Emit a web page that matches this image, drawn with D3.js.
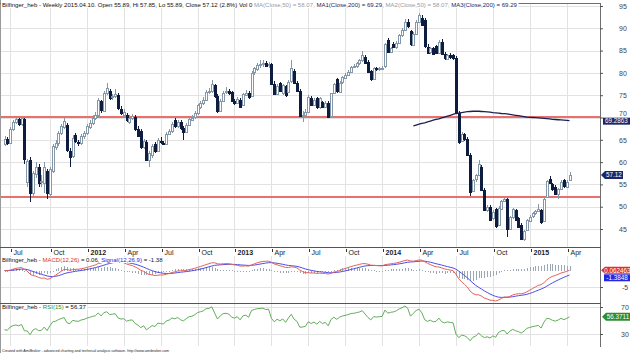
<!DOCTYPE html>
<html>
<head>
<meta charset="utf-8">
<script src="https://cdn.jsdelivr.net/npm/d3@7"></script>
<style>
  body { margin: 0; background: #fff; }
  svg { display: block; font-family: "Liberation Sans", Arial, sans-serif; }
</style>
</head>
<body>
<svg id="chart" width="630" height="353"></svg>
<script>
// Bilfinger_heb weekly bars, 2011-06-17 .. 2015-04-10
const opens = [
  64.0,65.2,64.4,67.5,69.0,69.6,68.5,69.6,55.5,60.5,
  53.0,57.5,59.0,55.6,55.5,58.0,53.0,58.0,63.5,64.3,
  66.5,68.0,68.3,62.6,61.5,66.0,64.4,64.2,65.8,66.5,
  68.0,68.8,70.0,70.6,73.6,71.5,75.5,76.0,74.5,74.8,
  75.0,72.0,70.6,70.5,69.0,69.8,70.2,67.5,67.0,63.5,
  64.5,60.5,61.5,64.0,62.5,64.8,64.3,64.2,66.4,67.0,
  69.4,68.0,69.0,67.6,66.8,68.3,69.6,70.0,71.0,72.5,
  73.3,74.0,75.8,76.0,77.3,74.8,71.5,73.8,75.6,75.9,
  75.8,73.8,73.3,74.0,72.8,75.2,75.5,74.8,80.0,81.0,
  81.8,82.0,82.3,81.7,82.0,77.6,75.3,77.8,75.4,77.0,
  75.8,78.0,80.5,77.7,76.0,70.5,70.6,71.2,74.4,72.9,
  74.3,72.2,73.5,72.4,73.3,70.2,75.4,78.6,75.8,77.8,
  79.0,79.6,80.3,81.3,81.6,82.2,82.8,83.5,82.5,80.4,
  78.6,81.0,80.8,81.0,81.4,87.4,84.7,86.5,85.8,86.8,
  88.5,89.6,91.5,89.3,86.3,88.8,91.5,92.4,91.8,85.9,
  84.5,85.5,86.0,84.5,87.0,84.2,83.2,84.0,84.0,83.3,
  71.0,64.8,66.3,65.2,61.6,53.6,56.0,57.0,59.0,53.8,
  49.3,50.0,47.4,49.5,46.0,49.6,51.3,51.7,45.0,47.6,
  49.2,47.5,46.0,42.8,44.8,47.0,47.8,48.5,49.0,49.2,
  46.8,52.3,56.2,55.0,54.5,52.8,54.0,55.9,54.5,55.89
]
const highs = [
  65.8,65.6,67.8,69.5,70.0,70.0,70.2,69.8,60.8,61.2,
  58.0,60.0,59.5,57.0,60.0,58.5,59.0,64.0,65.0,67.0,
  68.5,70.0,68.8,63.2,66.0,66.6,65.0,66.2,67.0,68.5,
  69.4,70.5,71.2,74.4,74.0,76.0,77.8,76.4,75.3,76.3,
  75.4,72.5,71.8,71.0,70.5,70.8,70.6,68.0,67.4,65.2,
  65.0,62.5,64.0,64.5,65.5,65.6,64.8,66.8,67.5,69.0,
  70.0,69.5,69.4,68.0,68.7,70.0,70.5,71.5,73.0,73.6,
  74.5,76.2,76.6,78.4,77.6,75.2,74.2,76.0,76.9,76.3,
  76.0,74.2,74.6,74.3,75.5,76.2,75.9,80.4,81.4,82.2,
  83.0,82.8,82.6,82.4,82.3,78.2,77.4,78.0,77.6,77.3,
  78.3,82.9,80.8,78.2,76.4,71.4,71.8,75.0,74.8,74.4,
  74.6,74.6,73.8,73.6,73.6,75.6,77.8,78.9,78.2,79.3,
  80.0,80.6,81.6,82.0,82.5,83.2,85.0,84.0,82.8,80.7,
  81.3,81.3,81.4,81.6,86.8,87.8,85.8,87.0,87.2,88.8,
  90.0,92.0,92.0,89.6,89.2,91.8,93.5,93.0,92.2,86.4,
  85.8,85.8,86.3,87.4,87.5,84.6,84.3,84.4,84.2,83.8,
  71.5,66.8,66.6,65.6,62.0,56.3,57.4,60.4,59.4,54.2,
  50.4,50.3,49.2,49.8,50.2,51.6,52.0,52.0,48.0,49.8,
  49.5,47.8,46.3,44.8,47.3,48.1,48.8,49.3,50.5,49.5,
  52.0,56.0,56.8,55.4,54.8,54.3,55.9,56.2,56.0,57.85
]
const lows = [
  63.6,63.8,64.0,67.0,68.5,68.2,68.0,59.5,54.5,51.0,
  52.5,56.5,54.5,54.5,53.0,51.8,52.0,57.5,62.8,63.5,
  66.0,67.5,62.3,59.0,61.0,64.2,63.5,63.8,65.2,66.0,
  67.5,68.3,69.5,70.2,71.0,71.2,75.0,74.0,74.0,74.3,
  71.6,70.6,70.0,69.0,68.6,69.4,67.0,65.6,63.0,63.0,
  60.2,59.0,61.0,62.0,62.2,64.0,63.8,63.8,66.0,66.6,
  67.7,67.6,67.2,65.0,66.5,68.0,69.2,69.6,70.5,71.8,
  72.8,73.6,75.2,75.6,74.4,71.0,71.2,73.5,75.2,75.0,
  73.5,72.8,73.0,72.2,72.5,74.8,74.2,74.6,79.6,80.5,
  81.2,81.4,81.4,81.2,77.2,75.0,75.0,75.7,75.0,74.6,
  75.5,77.8,77.4,75.8,70.3,69.0,70.2,71.0,72.6,72.5,
  72.0,72.0,72.2,72.2,70.0,70.0,75.2,75.5,75.5,77.5,
  78.6,79.3,80.0,81.0,81.2,81.8,82.4,82.0,79.9,78.2,
  78.3,80.5,80.4,80.6,81.2,84.4,84.4,85.5,85.4,86.5,
  88.0,89.3,90.0,86.0,86.0,88.5,91.2,90.5,85.6,84.2,
  84.2,84.0,84.2,84.3,84.0,83.0,83.0,83.2,83.0,70.8,
  64.0,64.5,64.8,61.3,52.5,53.2,55.6,56.8,53.5,49.0,
  48.8,46.8,47.0,45.3,45.6,49.3,51.0,43.2,44.8,47.3,
  46.8,45.2,42.5,42.3,44.5,46.8,47.5,48.2,48.8,46.2,
  46.5,52.0,55.0,53.5,52.8,51.8,53.8,54.2,54.2,55.89
]
const closes = [
  65.2,64.3,67.5,69.0,69.6,68.5,69.8,60.6,60.3,53.0,
  57.5,59.0,55.5,55.8,59.0,53.0,58.5,63.5,64.3,66.5,
  68.0,69.3,62.6,61.2,65.5,64.6,64.2,65.8,66.5,68.0,
  68.8,70.0,70.6,73.9,71.5,75.5,76.7,74.5,74.8,75.3,
  72.0,71.0,71.3,69.3,70.0,70.3,67.5,66.0,63.5,64.8,
  60.5,62.0,63.5,62.5,65.0,64.6,64.2,66.4,67.0,68.6,
  68.0,69.0,67.6,66.8,68.3,69.6,70.0,71.0,72.7,73.3,
  74.0,75.8,76.0,77.5,74.8,71.5,73.8,75.6,75.9,75.5,
  73.8,73.3,74.2,72.5,75.2,75.6,74.5,80.0,81.0,81.8,
  82.0,82.3,81.7,82.0,77.6,75.3,77.0,76.0,77.2,75.0,
  78.0,81.0,77.7,76.0,70.5,70.6,71.2,74.5,72.9,74.0,
  72.2,74.3,72.4,73.3,70.2,75.4,77.5,75.8,77.8,79.0,
  79.6,80.3,81.4,81.6,82.2,82.8,84.0,82.2,80.2,78.6,
  81.0,80.8,81.0,81.2,86.4,84.7,85.5,85.8,86.8,88.5,
  89.6,91.5,90.5,86.3,88.8,91.5,93.0,90.8,85.9,84.5,
  85.5,84.2,84.5,87.0,84.2,83.2,84.0,83.5,83.3,71.2,
  64.5,66.3,65.2,61.6,53.2,56.0,57.0,59.5,53.8,49.3,
  50.0,47.1,48.8,45.6,49.8,51.3,51.7,45.0,47.6,49.4,
  47.0,45.5,42.8,44.5,47.0,47.8,48.5,49.0,49.5,46.5,
  51.7,55.8,55.3,53.8,53.0,54.0,55.6,54.5,55.6,57.12
]

// MA(Close,200) as drawn, from bar 144 on
const ma200Start = 144
const ma200 = [
  68.1,68.3,68.5,68.7,68.8,69.0,69.2,69.4,69.6,69.7,
  69.9,70.1,70.3,70.5,70.7,70.9,71.0,71.1,71.2,71.3,
  71.35,71.4,71.4,71.4,71.35,71.3,71.25,71.2,71.1,71.05,
  71.0,70.9,70.85,70.8,70.7,70.6,70.5,70.4,70.3,70.2,
  70.1,70.05,70.0,69.95,69.9,69.85,69.8,69.75,69.7,69.6,
  69.55,69.5,69.45,69.4,69.35,69.29
]

const trendLevels = [70.1, 52.2]
const tickLabels = ['Jul','Oct','2012','Apr','Jul','Oct','2013','Apr','Jul','Oct','2014','Apr','Jul','Oct','2015','Apr']
const priceTicks = [95,90,85,80,75,70,65,60,55,50,45]
const macdTicks = [-5]
const rsiTicks = [70,30]

const svg = d3.select('#chart')
const n = closes.length
const weeks = d3.timeFriday.range(new Date(2011, 5, 17), new Date(2015, 3, 11))

const x = d3.scaleLinear().domain([0, n - 1]).range([4.5, 569.5])
const yP = d3.scaleLinear().domain([45, 95]).range([229, 6])
const yM = d3.scaleLinear().domain([-9.85, 4.4]).range([303, 256])
const yR = d3.scaleLinear().domain([30, 70]).range([334, 307])

const px = i => Math.round(x(i)) + 0.5

// indicators from the closes
const ema = (arr, k) => {
  const a = 2 / (k + 1)
  let e = arr[0]
  return arr.map(v => (e = e + a * (v - e)))
}
const e12 = ema(closes, 12), e26 = ema(closes, 26)
const macd = closes.map((c, i) => e12[i] - e26[i])
const signal = ema(macd, 9)
const hist = macd.map((m, i) => m - signal[i])

const rsi = (() => {
  const p = 15
  let g = 0, l = 0
  for (let i = 1; i <= p; i++) {
    const d = closes[i] - closes[i - 1]
    if (d > 0) g += d; else l -= d
  }
  g /= p; l /= p
  return closes.map((c, i) => {
    if (i > 0) {
      const d = c - closes[i - 1]
      g = (g * (p - 1) + Math.max(d, 0)) / p
      l = (l * (p - 1) + Math.max(-d, 0)) / p
    }
    return 100 - 100 / (1 + g / l)
  })
})()

// quarter ticks
const qIdx = weeks.map((d, i) => i).filter(i => i > 0 && weeks[i].getMonth() !== weeks[i - 1].getMonth() && weeks[i].getMonth() % 3 === 0)
const quarters = qIdx.map((i, k) => ({ i, label: tickLabels[k], year: !isNaN(+tickLabels[k]) }))

// grid
const grid = svg.append('g').attr('stroke', '#e2e2e2').attr('shape-rendering', 'crispEdges')
grid.selectAll('.hp').data(priceTicks).join('line')
  .attr('x1', 1).attr('x2', 600).attr('y1', d => Math.round(yP(d)) + 0.5).attr('y2', d => Math.round(yP(d)) + 0.5)
for (const [a, b] of [[4, 247], [256, 303], [304, 346]]) {
  grid.append('g').selectAll('line').data(quarters).join('line')
    .attr('x1', d => px(d.i)).attr('x2', d => px(d.i)).attr('y1', a).attr('y2', b)
}
grid.selectAll('.hr').data(rsiTicks).join('line')
  .attr('x1', 1).attr('x2', 600).attr('y1', d => Math.round(yR(d)) + 0.5).attr('y2', d => Math.round(yR(d)) + 0.5)
grid.selectAll('.hm').data(macdTicks).join('line')
  .attr('x1', 1).attr('x2', 600).attr('y1', d => Math.round(yM(d)) + 0.5).attr('y2', d => Math.round(yM(d)) + 0.5)

// trend lines
svg.append('g').selectAll('line').data(trendLevels).join('line')
  .attr('x1', 1).attr('x2', 600).attr('y1', d => yP(d)).attr('y2', d => yP(d))
  .attr('stroke', '#e8716e').attr('stroke-width', 2)

// candles
const up = '#8598aa', down = '#0e1c40'
const bars = svg.append('g').attr('shape-rendering', 'crispEdges')
  .selectAll('g').data(d3.range(n)).join('g')
bars.append('line')
  .attr('x1', px).attr('x2', px)
  .attr('y1', i => yP(highs[i])).attr('y2', i => yP(lows[i]))
  .attr('stroke', i => closes[i] >= opens[i] ? up : down)
bars.append('rect')
  .attr('x', i => px(i) - 1.5)
  .attr('width', 2)
  .attr('y', i => Math.round(yP(Math.max(opens[i], closes[i]))) + 0.5)
  .attr('height', i => Math.max(1, Math.round(Math.abs(yP(opens[i]) - yP(closes[i])))))
  .attr('fill', i => closes[i] >= opens[i] ? '#fff' : down)
  .attr('stroke', i => closes[i] >= opens[i] ? up : down)

// MA 200
svg.append('path')
  .datum(ma200)
  .attr('fill', 'none').attr('stroke', '#1b1f55').attr('stroke-width', 1.3)
  .attr('d', d3.line().x((d, k) => x(ma200Start + k)).y(d => yP(d)))

// MACD panel
svg.append('clipPath').attr('id', 'cm').append('rect').attr('x', 1).attr('y', 256).attr('width', 599).attr('height', 47)
const gm = svg.append('g').attr('clip-path', 'url(#cm)')
gm.append('g').attr('shape-rendering', 'crispEdges').selectAll('line').data(d3.range(n)).join('line')
  .attr('x1', px).attr('x2', px)
  .attr('y1', Math.round(yM(0)))
  .attr('y2', i => {
    const y0 = Math.round(yM(0)), y1 = Math.round(yM(hist[i]))
    return Math.abs(y1 - y0) < 1 ? y0 + 1 : y1
  })
  .attr('stroke', '#9aa8b5')
gm.append('path').datum(signal)
  .attr('fill', 'none').attr('stroke', '#4d4de6').attr('stroke-width', 1)
  .attr('d', d3.line().x((d, i) => x(i)).y(d => yM(d)))
gm.append('path').datum(macd)
  .attr('fill', 'none').attr('stroke', '#e2625c').attr('stroke-width', 1)
  .attr('d', d3.line().x((d, i) => x(i)).y(d => yM(d)))

// RSI panel
svg.append('clipPath').attr('id', 'cr').append('rect').attr('x', 1).attr('y', 304).attr('width', 599).attr('height', 43)
svg.append('path').datum(rsi).attr('clip-path', 'url(#cr)')
  .attr('fill', 'none').attr('stroke', '#62ad5a').attr('stroke-width', 1)
  .attr('d', d3.line().x((d, i) => x(i)).y(d => yR(d)))

// frame
const frame = svg.append('g').attr('stroke', '#6e6e6e').attr('shape-rendering', 'crispEdges')
frame.append('line').attr('x1', 0.5).attr('x2', 0.5).attr('y1', 0).attr('y2', 353).attr('stroke', '#9a9a9a')
frame.append('line').attr('x1', 0).attr('x2', 600.5).attr('y1', 3.5).attr('y2', 3.5)
frame.append('line').attr('x1', 600.5).attr('x2', 600.5).attr('y1', 3.5).attr('y2', 347)
frame.append('line').attr('x1', 0).attr('x2', 600.5).attr('y1', 247.5).attr('y2', 247.5).attr('stroke', '#555')
frame.append('line').attr('x1', 0).attr('x2', 600.5).attr('y1', 303.5).attr('y2', 303.5).attr('stroke', '#555')

// axes on the right
const axisStyle = g => {
  g.select('.domain').remove()
  g.selectAll('.tick line').attr('stroke', '#555')
  g.selectAll('.tick text').attr('fill', '#444').attr('font-size', 7).attr('font-family', '"Liberation Sans", Arial, sans-serif')
}
const yMaLast = yP(ma200[ma200.length - 1])
svg.append('g').attr('transform', 'translate(600,0)')
  .call(d3.axisRight(yP).tickValues(priceTicks).tickSize(3).tickPadding(16)).call(axisStyle)
  // the 70 label peeks out above the MA badge, as in the reference
  .call(g => g.selectAll('.tick text').filter(d => Math.abs(yP(d) - yMaLast) < 8).attr('dy', '-0.25em'))
svg.append('g').attr('transform', 'translate(600,0)')
  .call(d3.axisRight(yM).tickValues(macdTicks).tickFormat(d => d).tickSize(3).tickPadding(19)).call(axisStyle)
svg.append('g').attr('transform', 'translate(600,0)')
  .call(d3.axisRight(yR).tickValues(rsiTicks).tickSize(3).tickPadding(18)).call(axisStyle)

// date labels
const dl = svg.append('g').selectAll('g').data(quarters).join('g')
dl.append('line').attr('x1', d => px(d.i) + 1).attr('x2', d => px(d.i) + 1).attr('y1', 249).attr('y2', 251.5)
  .attr('stroke', '#333').attr('shape-rendering', 'crispEdges')
dl.append('text').attr('x', d => px(d.i) + 3).attr('y', 255)
  .attr('font-size', 7).attr('fill', '#222').attr('font-weight', d => d.year ? 'bold' : 'normal')
  .text(d => d.label)

// badges
const badge = (yc, txt, fill, x0, x1, arrow, h = 4) => {
  const g = svg.append('g')
  const tip = arrow ? 4 : 0
  g.append('path').attr('fill', fill)
    .attr('d', `M${x0},${yc}L${x0 + tip},${yc - h}L${x1},${yc - h}L${x1},${yc + h}L${x0 + tip},${yc + h}Z`)
  g.append('text').attr('x', (x0 + tip + x1) / 2).attr('y', yc + 2.3).attr('text-anchor', 'middle')
    .attr('font-size', 6.3).attr('fill', '#fff').text(txt)
}
badge(yMaLast + 0.5, '69.2863', '#1d2566', 603, 630, false, 3.5)
badge(yP(closes[n - 1]), '57.12', '#1d2566', 601, 623, true)
const yMacdB = yM(macd[n - 1])
const ySigB = Math.max(yM(signal[n - 1]), yMacdB + 7.5)
badge(yMacdB, '0.062463', '#e0302a', 601, 630, true, 3.5)
badge(ySigB, '-1.3848', '#2626e0', 604, 630, false, 3.5)
badge(yR(rsi[n - 1]), '56.3711', '#2d8d2d', 602, 630, true)

// headers: sized to the width they take in the reference
const header = (y, parts, len) => {
  const t = svg.append('text').attr('x', 2).attr('y', y).attr('font-size', 7)
  parts.forEach(([s, c]) => t.append('tspan').attr('fill', c).text(s))
  const w = t.node().getComputedTextLength()
  t.attr('font-size', 7 * len / w)
  const bb = t.node().getBBox()
  svg.insert('rect', () => t.node()).attr('x', 1).attr('y', bb.y).attr('width', bb.width + 2).attr('height', bb.height).attr('fill', '#fff')
}
header(7, [
  ['Bilfinger_heb - Weekly 2015.04.10. Open 55.89, Hi 57.85, Lo 55.89, Close 57.12 (2.8%) Vol 0 ', '#111'],
  ['MA(Close,50) = 58.07, ', '#9a9aa6'],
  ['MA1(Close,200) = 69.29, ', '#1d2566'],
  ['MA2(Close,50) = 58.07, ', '#9a9aa6'],
  ['MA3(Close,200) = 69.29', '#1d2566']
], 516)
header(262, [
  ['Bilfinger_heb - ', '#111'],
  ['MACD(12,26)', '#e0302a'],
  [' = 0.06, ', '#111'],
  ['Signal(12,26,9)', '#2626e0'],
  [' = -1.38', '#111']
], 161)
header(309, [
  ['Bilfinger_heb - ', '#111'],
  ['RSI(15)', '#2d8d2d'],
  [' = 56.37', '#111']
], 84)

const foot = svg.append('text').attr('x', 2).attr('y', 351.5).attr('font-size', 5).attr('fill', '#222')
  .text('Created with AmiBroker - advanced charting and technical analysis software. http://www.amibroker.com')
foot.attr('font-size', 5 * 168 / foot.node().getComputedTextLength())
</script>
</body>
</html>
